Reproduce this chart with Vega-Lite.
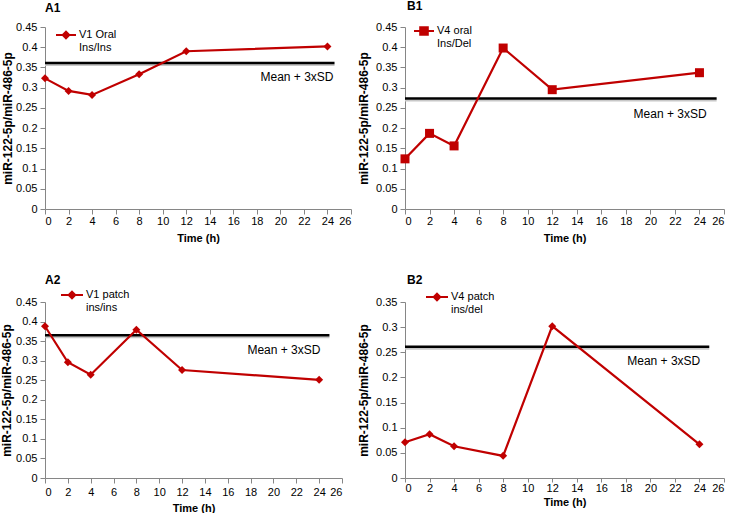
{
  "$schema": "https://vega.github.io/schema/vega-lite/v6.json",
  "background": "white",
  "padding": {"left": 0, "top": 0, "right": 0, "bottom": 0},
  "autosize": {"type": "pad"},
  "config": {
    "font": "Liberation Sans",
    "view": {"stroke": null},
    "axis": {
      "grid": false,
      "domainColor": "#868686",
      "tickColor": "#868686",
      "tickSize": 5,
      "labelFontSize": 11,
      "labelColor": "#000000",
      "titleFontSize": 11,
      "titleFontWeight": "bold",
      "titleColor": "#000000"
    },
    "axisY": {"labelPadding": 3, "titlePadding": 4, "titleFontSize": 12},
    "title": {"anchor": "start", "frame": "group", "fontSize": 12, "fontWeight": "bold", "color": "#000000"},
    "legend": {"labelFontSize": 11, "labelColor": "#000000", "padding": 0, "labelLimit": 0, "symbolOffset": 0}
  },
  "datasets": {
    "points": [
      {"panel": "A1", "series": "V1 Oral|Ins/Ins", "time": 0, "ratio": 0.323},
      {"panel": "A1", "series": "V1 Oral|Ins/Ins", "time": 2, "ratio": 0.292},
      {"panel": "A1", "series": "V1 Oral|Ins/Ins", "time": 4, "ratio": 0.282},
      {"panel": "A1", "series": "V1 Oral|Ins/Ins", "time": 8, "ratio": 0.333},
      {"panel": "A1", "series": "V1 Oral|Ins/Ins", "time": 12, "ratio": 0.390},
      {"panel": "A1", "series": "V1 Oral|Ins/Ins", "time": 24, "ratio": 0.402},
      {"panel": "B1", "series": "V4 oral|Ins/Del", "time": 0, "ratio": 0.124},
      {"panel": "B1", "series": "V4 oral|Ins/Del", "time": 2, "ratio": 0.187},
      {"panel": "B1", "series": "V4 oral|Ins/Del", "time": 4, "ratio": 0.156},
      {"panel": "B1", "series": "V4 oral|Ins/Del", "time": 8, "ratio": 0.398},
      {"panel": "B1", "series": "V4 oral|Ins/Del", "time": 12, "ratio": 0.295},
      {"panel": "B1", "series": "V4 oral|Ins/Del", "time": 24, "ratio": 0.337},
      {"panel": "A2", "series": "V1 patch|ins/ins", "time": 0, "ratio": 0.388},
      {"panel": "A2", "series": "V1 patch|ins/ins", "time": 2, "ratio": 0.296},
      {"panel": "A2", "series": "V1 patch|ins/ins", "time": 4, "ratio": 0.264},
      {"panel": "A2", "series": "V1 patch|ins/ins", "time": 8, "ratio": 0.379},
      {"panel": "A2", "series": "V1 patch|ins/ins", "time": 12, "ratio": 0.276},
      {"panel": "A2", "series": "V1 patch|ins/ins", "time": 24, "ratio": 0.251},
      {"panel": "B2", "series": "V4 patch|ins/del", "time": 0, "ratio": 0.071},
      {"panel": "B2", "series": "V4 patch|ins/del", "time": 2, "ratio": 0.087},
      {"panel": "B2", "series": "V4 patch|ins/del", "time": 4, "ratio": 0.063},
      {"panel": "B2", "series": "V4 patch|ins/del", "time": 8, "ratio": 0.044},
      {"panel": "B2", "series": "V4 patch|ins/del", "time": 12, "ratio": 0.302},
      {"panel": "B2", "series": "V4 patch|ins/del", "time": 24, "ratio": 0.067}
    ],
    "means": [
      {"panel": "A1", "t_start": 0, "t_end": 24.6, "mean3sd": 0.361, "label": "Mean + 3xSD"},
      {"panel": "B1", "t_start": 0, "t_end": 25.4, "mean3sd": 0.273, "label": "Mean + 3xSD"},
      {"panel": "A2", "t_start": 0, "t_end": 24.9, "mean3sd": 0.365, "label": "Mean + 3xSD"},
      {"panel": "B2", "t_start": 0, "t_end": 24.8, "mean3sd": 0.261, "label": "Mean + 3xSD"}
    ]
  },
  "bounds": "flush",
  "columns": 2,
  "spacing": {"row": 93, "column": 54},
  "resolve": {"scale": {"color": "independent"}, "legend": {"color": "independent"}},
  "concat": [
    {
      "width": 306, "height": 182,
      "title": {"text": "A1", "offset": 6, "dx": 0},
      "layer": [
        {"data": {"name": "means"}, "transform": [{"filter": "datum.panel === 'A1'"}],
         "mark": {"type": "rule", "color": "#c8c8c8", "strokeWidth": 2, "yOffset": 2},
         "encoding": {"x": {"field": "t_start", "type": "quantitative", "title": "Time (h)", "scale": {"domain": [0, 26], "nice": false}},
                      "x2": {"field": "t_end"},
                      "y": {"field": "mean3sd", "type": "quantitative", "title": "miR-122-5p/miR-486-5p", "scale": {"domain": [0, 0.45], "nice": false}}}},
        {"data": {"name": "means"}, "transform": [{"filter": "datum.panel === 'A1'"}],
         "mark": {"type": "rule", "color": "#000000", "strokeWidth": 2.5},
         "encoding": {"x": {"field": "t_start", "type": "quantitative", "title": "Time (h)", "scale": {"domain": [0, 26], "nice": false}},
                      "x2": {"field": "t_end"},
                      "y": {"field": "mean3sd", "type": "quantitative", "title": "miR-122-5p/miR-486-5p", "scale": {"domain": [0, 0.45], "nice": false}}}},
        {"data": {"name": "means"}, "transform": [{"filter": "datum.panel === 'A1'"}],
         "mark": {"type": "text", "align": "right", "baseline": "middle", "dy": 14, "dx": -1, "fontSize": 12, "color": "#000000"},
         "encoding": {"x": {"field": "t_end", "type": "quantitative", "title": "Time (h)", "scale": {"domain": [0, 26], "nice": false}},
                      "y": {"field": "mean3sd", "type": "quantitative", "title": "miR-122-5p/miR-486-5p", "scale": {"domain": [0, 0.45], "nice": false}},
                      "text": {"field": "label"}}},
        {"data": {"name": "points"}, "transform": [{"filter": "datum.panel === 'A1'"}],
         "mark": {"type": "line", "strokeWidth": 2.2, "point": {"filled": true, "shape": "diamond", "size": 64, "opacity": 1}},
         "encoding": {
           "x": {"field": "time", "type": "quantitative", "title": "Time (h)", "scale": {"domain": [0, 26], "nice": false}, "axis": {"tickCount": 13, "labelPadding": 1, "titlePadding": 6}},
           "y": {"field": "ratio", "type": "quantitative", "title": "miR-122-5p/miR-486-5p", "scale": {"domain": [0, 0.45], "nice": false}, "axis": {"tickCount": 9, "format": ".2~f", "titlePadding": 1}},
           "color": {"field": "series", "type": "nominal", "scale": {"range": ["#c00000"]},
             "legend": {"orient": "none", "legendX": 10, "legendY": -3, "title": null,
               "symbolType": "M-1,0L1,0M0,-0.33L0.33,0L0,0.33L-0.33,0Z", "symbolSize": 400, "symbolStrokeWidth": 2,
               "symbolFillColor": "#c00000", "symbolStrokeColor": "#c00000", "labelBaseline": "alphabetic", "labelOffset": 2,
               "labelExpr": "split(datum.label, '|')",
               "encode": {"labels": {"update": {"lineHeight": {"value": 13}, "dy": {"value": 3}}}}}}
         }}
      ]
    },
    {
      "width": 319, "height": 182,
      "title": {"text": "B1", "offset": 7, "dx": 2},
      "layer": [
        {"data": {"name": "means"}, "transform": [{"filter": "datum.panel === 'B1'"}],
         "mark": {"type": "rule", "color": "#c8c8c8", "strokeWidth": 2, "yOffset": 2},
         "encoding": {"x": {"field": "t_start", "type": "quantitative", "title": "Time (h)", "scale": {"domain": [0, 26], "nice": false}},
                      "x2": {"field": "t_end"},
                      "y": {"field": "mean3sd", "type": "quantitative", "title": "miR-122-5p/miR-486-5p", "scale": {"domain": [0, 0.45], "nice": false}}}},
        {"data": {"name": "means"}, "transform": [{"filter": "datum.panel === 'B1'"}],
         "mark": {"type": "rule", "color": "#000000", "strokeWidth": 2.5},
         "encoding": {"x": {"field": "t_start", "type": "quantitative", "title": "Time (h)", "scale": {"domain": [0, 26], "nice": false}},
                      "x2": {"field": "t_end"},
                      "y": {"field": "mean3sd", "type": "quantitative", "title": "miR-122-5p/miR-486-5p", "scale": {"domain": [0, 0.45], "nice": false}}}},
        {"data": {"name": "means"}, "transform": [{"filter": "datum.panel === 'B1'"}],
         "mark": {"type": "text", "align": "right", "baseline": "middle", "dy": 15, "dx": -10, "fontSize": 12, "color": "#000000"},
         "encoding": {"x": {"field": "t_end", "type": "quantitative", "title": "Time (h)", "scale": {"domain": [0, 26], "nice": false}},
                      "y": {"field": "mean3sd", "type": "quantitative", "title": "miR-122-5p/miR-486-5p", "scale": {"domain": [0, 0.45], "nice": false}},
                      "text": {"field": "label"}}},
        {"data": {"name": "points"}, "transform": [{"filter": "datum.panel === 'B1'"}],
         "mark": {"type": "line", "strokeWidth": 2.2, "point": {"filled": true, "shape": "square", "size": 81, "opacity": 1}},
         "encoding": {
           "x": {"field": "time", "type": "quantitative", "title": "Time (h)", "scale": {"domain": [0, 26], "nice": false}, "axis": {"tickCount": 13, "labelPadding": 1, "titlePadding": 6}},
           "y": {"field": "ratio", "type": "quantitative", "title": "miR-122-5p/miR-486-5p", "scale": {"domain": [0, 0.45], "nice": false}, "axis": {"tickCount": 9, "format": ".2~f", "titlePadding": 5}},
           "color": {"field": "series", "type": "nominal", "scale": {"range": ["#c00000"]},
             "legend": {"orient": "none", "legendX": 8, "legendY": -7, "title": null,
               "symbolType": "M-1,0L1,0M-0.38,-0.38L0.38,-0.38L0.38,0.38L-0.38,0.38Z", "symbolSize": 400, "symbolStrokeWidth": 2,
               "symbolFillColor": "#c00000", "symbolStrokeColor": "#c00000", "labelBaseline": "alphabetic", "labelOffset": 2,
               "labelExpr": "split(datum.label, '|')",
               "encode": {"labels": {"update": {"lineHeight": {"value": 13}, "dy": {"value": 3}}}}}}
         }}
      ]
    },
    {
      "width": 297, "height": 176,
      "title": {"text": "A2", "offset": -4, "dx": 0},
      "layer": [
        {"data": {"name": "means"}, "transform": [{"filter": "datum.panel === 'A2'"}],
         "mark": {"type": "rule", "color": "#c8c8c8", "strokeWidth": 2, "yOffset": 2},
         "encoding": {"x": {"field": "t_start", "type": "quantitative", "title": "Time (h)", "scale": {"domain": [0, 26], "nice": false}},
                      "x2": {"field": "t_end"},
                      "y": {"field": "mean3sd", "type": "quantitative", "title": "miR-122-5p/miR-486-5p", "scale": {"domain": [0, 0.45], "nice": false}}}},
        {"data": {"name": "means"}, "transform": [{"filter": "datum.panel === 'A2'"}],
         "mark": {"type": "rule", "color": "#000000", "strokeWidth": 2.5},
         "encoding": {"x": {"field": "t_start", "type": "quantitative", "title": "Time (h)", "scale": {"domain": [0, 26], "nice": false}},
                      "x2": {"field": "t_end"},
                      "y": {"field": "mean3sd", "type": "quantitative", "title": "miR-122-5p/miR-486-5p", "scale": {"domain": [0, 0.45], "nice": false}}}},
        {"data": {"name": "means"}, "transform": [{"filter": "datum.panel === 'A2'"}],
         "mark": {"type": "text", "align": "right", "baseline": "middle", "dy": 15, "dx": -9, "fontSize": 12, "color": "#000000"},
         "encoding": {"x": {"field": "t_end", "type": "quantitative", "title": "Time (h)", "scale": {"domain": [0, 26], "nice": false}},
                      "y": {"field": "mean3sd", "type": "quantitative", "title": "miR-122-5p/miR-486-5p", "scale": {"domain": [0, 0.45], "nice": false}},
                      "text": {"field": "label"}}},
        {"data": {"name": "points"}, "transform": [{"filter": "datum.panel === 'A2'"}],
         "mark": {"type": "line", "strokeWidth": 2.2, "point": {"filled": true, "shape": "diamond", "size": 64, "opacity": 1}},
         "encoding": {
           "x": {"field": "time", "type": "quantitative", "title": "Time (h)", "scale": {"domain": [0, 26], "nice": false}, "axis": {"tickCount": 13, "labelPadding": 3, "titlePadding": 5}},
           "y": {"field": "ratio", "type": "quantitative", "title": "miR-122-5p/miR-486-5p", "scale": {"domain": [0, 0.45], "nice": false}, "axis": {"tickCount": 9, "format": ".2~f", "titlePadding": 2}},
           "color": {"field": "series", "type": "nominal", "scale": {"range": ["#c00000"]},
             "legend": {"orient": "none", "legendX": 15, "legendY": -19, "title": null,
               "symbolType": "M-1,0L1,0M0,-0.3L0.3,0L0,0.3L-0.3,0Z", "symbolSize": 484, "symbolStrokeWidth": 2,
               "symbolFillColor": "#c00000", "symbolStrokeColor": "#c00000", "labelBaseline": "alphabetic", "labelOffset": 2,
               "labelExpr": "split(datum.label, '|')",
               "encode": {"labels": {"update": {"lineHeight": {"value": 13}, "dy": {"value": 3}}}}}}
         }}
      ]
    },
    {
      "width": 319, "height": 176,
      "title": {"text": "B2", "offset": -2, "dx": 2},
      "layer": [
        {"data": {"name": "means"}, "transform": [{"filter": "datum.panel === 'B2'"}],
         "mark": {"type": "rule", "color": "#c8c8c8", "strokeWidth": 2, "yOffset": 2},
         "encoding": {"x": {"field": "t_start", "type": "quantitative", "title": "Time (h)", "scale": {"domain": [0, 26], "nice": false}},
                      "x2": {"field": "t_end"},
                      "y": {"field": "mean3sd", "type": "quantitative", "title": "miR-122-5p/miR-486-5p", "scale": {"domain": [0, 0.35], "nice": false}}}},
        {"data": {"name": "means"}, "transform": [{"filter": "datum.panel === 'B2'"}],
         "mark": {"type": "rule", "color": "#000000", "strokeWidth": 2.5},
         "encoding": {"x": {"field": "t_start", "type": "quantitative", "title": "Time (h)", "scale": {"domain": [0, 26], "nice": false}},
                      "x2": {"field": "t_end"},
                      "y": {"field": "mean3sd", "type": "quantitative", "title": "miR-122-5p/miR-486-5p", "scale": {"domain": [0, 0.35], "nice": false}}}},
        {"data": {"name": "means"}, "transform": [{"filter": "datum.panel === 'B2'"}],
         "mark": {"type": "text", "align": "right", "baseline": "middle", "dy": 14, "dx": -9, "fontSize": 12, "color": "#000000"},
         "encoding": {"x": {"field": "t_end", "type": "quantitative", "title": "Time (h)", "scale": {"domain": [0, 26], "nice": false}},
                      "y": {"field": "mean3sd", "type": "quantitative", "title": "miR-122-5p/miR-486-5p", "scale": {"domain": [0, 0.35], "nice": false}},
                      "text": {"field": "label"}}},
        {"data": {"name": "points"}, "transform": [{"filter": "datum.panel === 'B2'"}],
         "mark": {"type": "line", "strokeWidth": 2.2, "point": {"filled": true, "shape": "diamond", "size": 64, "opacity": 1}},
         "encoding": {
           "x": {"field": "time", "type": "quantitative", "title": "Time (h)", "scale": {"domain": [0, 26], "nice": false}, "axis": {"tickCount": 13, "tickSize": 4, "labelPadding": 0, "titlePadding": 3}},
           "y": {"field": "ratio", "type": "quantitative", "title": "miR-122-5p/miR-486-5p", "scale": {"domain": [0, 0.35], "nice": false}, "axis": {"tickCount": 7, "format": ".2~f", "titlePadding": 5}},
           "color": {"field": "series", "type": "nominal", "scale": {"range": ["#c00000"]},
             "legend": {"orient": "none", "legendX": 20, "legendY": -17, "title": null,
               "symbolType": "M-1,0L1,0M0,-0.3L0.3,0L0,0.3L-0.3,0Z", "symbolSize": 484, "symbolStrokeWidth": 2,
               "symbolFillColor": "#c00000", "symbolStrokeColor": "#c00000", "labelBaseline": "alphabetic", "labelOffset": 2,
               "labelExpr": "split(datum.label, '|')",
               "encode": {"labels": {"update": {"lineHeight": {"value": 13}, "dy": {"value": 3}}}}}}
         }}
      ]
    }
  ]
}
